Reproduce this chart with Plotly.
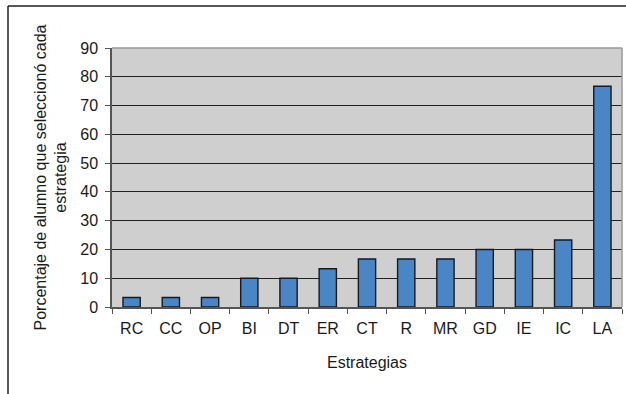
import plotly.graph_objects as go

categorias = ["RC", "CC", "OP", "BI", "DT", "ER", "CT", "R", "MR", "GD", "IE", "IC", "LA"]
porcentajes = [3.3, 3.3, 3.3, 10.0, 10.0, 13.3, 16.7, 16.7, 16.7, 20.0, 20.0, 23.3, 76.7]
y_ticks = [0, 10, 20, 30, 40, 50, 60, 70, 80, 90]

W, H = 626, 394
L, R, T, B = 112, 4, 48, 87
pw, ph = W - L - R, H - T - B

fig = go.Figure(
    go.Bar(
        x=categorias,
        y=porcentajes,
        marker=dict(color="#4a86c6", line=dict(color="#1a1a1a", width=1.4)),
        hoverinfo="x+y",
    )
)

font = dict(family="Liberation Sans, Arial, sans-serif", size=16, color="#1a1a1a")

fig.update_layout(
    width=W,
    height=H,
    margin=dict(l=L, r=R, t=T, b=B),
    paper_bgcolor="white",
    plot_bgcolor="#cfcfcf",
    font=font,
    bargap=0.56,
    showlegend=False,
    xaxis=dict(
        title=dict(text="Estrategias", standoff=21, font=dict(size=16)),
        showgrid=False,
        showline=True,
        linecolor="#555555",
        linewidth=1.5,
        ticks="outside",
        tickson="boundaries",
        ticklen=5,
        tickcolor="#555555",
        ticklabelstandoff=6,
        mirror=False,
    ),
    yaxis=dict(
        range=[0, 90],
        tickvals=y_ticks,
        showgrid=True,
        gridcolor="#222222",
        gridwidth=1,
        showline=True,
        linecolor="#555555",
        linewidth=1.5,
        ticks="outside",
        ticklen=5,
        tickcolor="#555555",
        ticklabelstandoff=4,
        zeroline=False,
    ),
    annotations=[
        dict(
            text="Porcentaje de alumno que seleccionó cada<br>estrategia",
            textangle=-90,
            xref="paper",
            yref="paper",
            x=(50 - L) / pw,
            y=0.5,
            xanchor="center",
            yanchor="middle",
            showarrow=False,
            font=dict(size=16, color="#1a1a1a"),
        )
    ],
    shapes=[
        # gray border on top and right of the plot area
        dict(type="line", xref="paper", yref="paper", x0=0, x1=1, y0=1, y1=1,
             line=dict(color="#999999", width=1.5)),
        dict(type="line", xref="paper", yref="paper", x0=1, x1=1, y0=0, y1=1,
             line=dict(color="#999999", width=1.5)),
        # outer chart frame
        dict(type="line", xref="paper", yref="paper",
             x0=(8 - L) / pw, x1=(8 - L) / pw, y0=(T + ph - H - 10) / ph, y1=1 + (T - 6) / ph,
             line=dict(color="#222222", width=1.5)),
        dict(type="line", xref="paper", yref="paper",
             x0=(8 - L) / pw, x1=1 + (R + 10) / pw, y0=1 + (T - 6) / ph, y1=1 + (T - 6) / ph,
             line=dict(color="#222222", width=1.5)),
    ],
)

fig.write_html("out.html")
